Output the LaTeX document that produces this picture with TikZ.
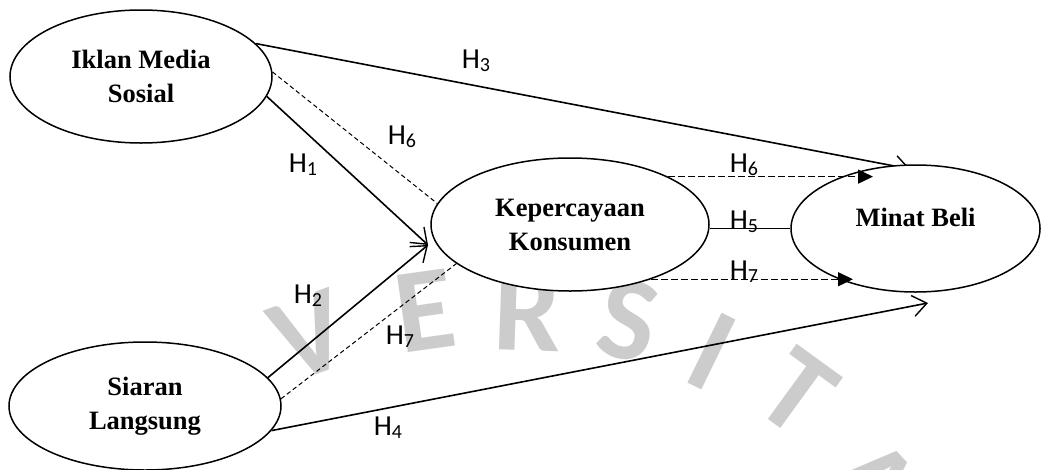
\documentclass[tikz,border=0pt]{standalone}
\usepackage{fontspec}
\setmainfont{Liberation Serif}
\newfontfamily\labfont{Carlito}
\newfontfamily\wmfont{Carlito}
\usetikzlibrary{arrows.meta,backgrounds,shapes.geometric}
\newcommand\mysub[1]{\raisebox{-3pt}{\fontsize{20}{20}\selectfont #1}}
\tikzset{
  var/.style={ellipse, draw, line width=1.5pt, fill=white, inner sep=0pt, align=center,
    font=\bfseries\fontsize{26.5}{34}\selectfont},
  hlab/.style={inner sep=0pt, font=\labfont\fontsize{29}{29}\selectfont},
  wm/.style={inner sep=0pt, text=black!20, font=\wmfont\bfseries\fontsize{120}{120}\selectfont},
  solidarrow/.style={line width=1.6pt, -{Straight Barb[length=14pt,width=21pt,line width=1.4pt]}},
  solidline/.style={line width=1.6pt},
  thindash/.style={line width=1pt, dash pattern=on 4.5pt off 3pt},
  dasharrow/.style={line width=1.4pt, dash pattern=on 6.5pt off 3.5pt, -{Triangle[length=15pt,width=14pt]}}
}
\begin{document}
\begin{tikzpicture}[x=1pt,y=-1pt]
\useasboundingbox (0,0) rectangle (1041,469);

% variables
\node[var, minimum width=262pt, minimum height=133pt] (ikl) at (141,76.5) {Iklan Media\\Sosial};
\node[var, minimum width=272pt, minimum height=128pt] (sia) at (145,406) {Siaran\\Langsung};
\node[var, minimum width=278pt, minimum height=133pt] (kep) at (570,224.5) {Kepercayaan\\Konsumen};
\node[var, minimum width=249pt, minimum height=127pt] (min) at (915.5,228.5) {\raisebox{11pt}[\height][\depth]{Minat Beli}};

% free ends
\coordinate (kin) at (428,245);
\coordinate (h3end) at (910,169);
\coordinate (h4end) at (928,303);
\coordinate (h6tip) at (873,177);
\coordinate (h7tip) at (853,281);

\begin{pgfonlayer}{background}
  \fill[white] (0,0) rectangle (1041,469);
  % watermark
  \node[wm, rotate=20] (wmV) at (310,336) {V};
  \node[wm, rotate=8] (wmE) at (425,311) {E};
  \node[wm, rotate=-2] (wmR) at (528,312) {R};
  \node[wm, rotate=-12] (wmS) at (628,320) {S};
  \node[wm, rotate=-26] (wmI) at (712,352) {I};
  \node[wm, rotate=-36] (wmT) at (797,392) {T};
  \node[wm, rotate=-47] (wmA) at (874,484) {A};
  % H3 passes under Minat Beli
  \draw[solidarrow] (ikl.16.65) -- (h3end);
\end{pgfonlayer}

% connectors
\draw[solidarrow] (ikl.-9.7) -- (kin);
\draw[solidarrow] (sia.13.8) -- (kin);
\draw[solidarrow] (sia.-11.75) -- (h4end);
\draw[thindash] (ikl.2) -- (kep.171.5);
\draw[thindash] (sia.3.2) -- (kep.199.8);
\draw[solidline] (kep.east |- min.west) -- (min.west);
\draw[dasharrow] (kep.26) -- (kep.26 -| h6tip);
\draw[dasharrow] (kep.-34) -- (kep.-34 -| h7tip);

% labels
\node[hlab] (l3) at (476,61) {H\mysub{3}};
\node[hlab] (l6a) at (402,137) {H\mysub{6}};
\node[hlab] (l1) at (303,165) {H\mysub{1}};
\node[hlab] (l6b) at (744,165) {H\mysub{6}};
\node[hlab] (l5) at (744,222) {H\mysub{5}};
\node[hlab] (l7b) at (744,272) {H\mysub{7}};
\node[hlab] (l2) at (308,296) {H\mysub{2}};
\node[hlab] (l7a) at (400,337) {H\mysub{7}};
\node[hlab] (l4) at (388,428) {H\mysub{4}};
\end{tikzpicture}
\end{document}
